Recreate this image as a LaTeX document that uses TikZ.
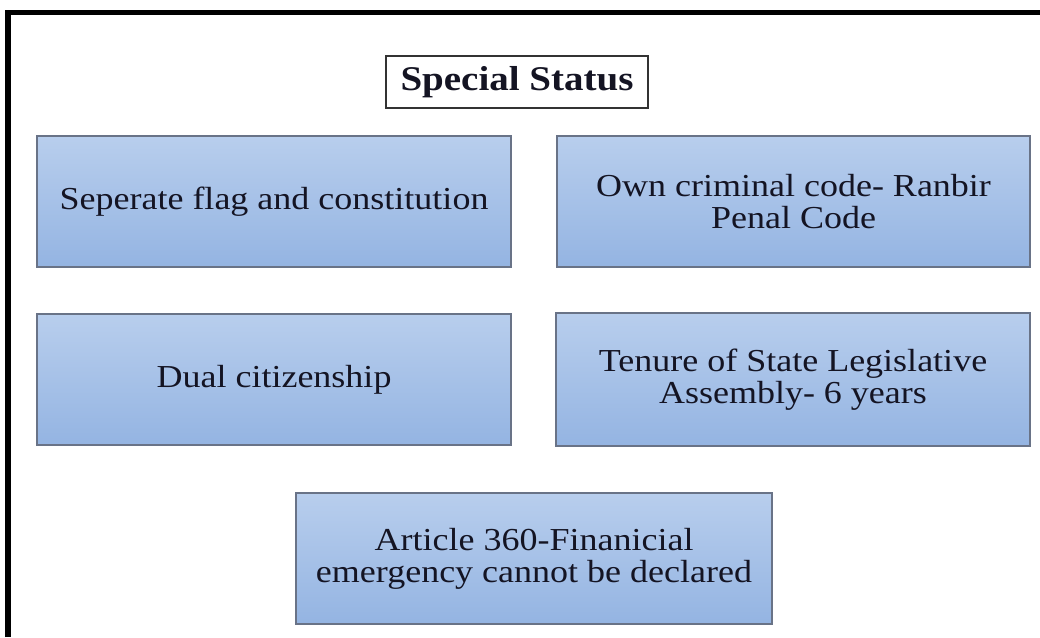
\documentclass[tikz,border=0pt]{standalone}
\usepackage{fontspec}
\setmainfont{Liberation Serif}[FakeStretch=1.125]
\definecolor{boxtop}{RGB}{184,206,237}
\definecolor{boxbot}{RGB}{148,180,226}
\definecolor{boxline}{RGB}{105,115,135}
\definecolor{txt}{RGB}{20,20,35}
\tikzset{
  infobox/.style={rectangle, draw=boxline, line width=1.3pt, top color=boxtop, bottom color=boxbot,
    align=center, inner sep=0pt, font=\fontsize{24}{24}\selectfont, text=txt},
  titlebox/.style={rectangle, draw=black!80, line width=1.3pt, fill=white, inner sep=0pt,
    font=\fontsize{26}{26}\selectfont\bfseries, text=txt}
}
\begin{document}
\begin{tikzpicture}[x=0.75pt,y=-0.75pt]
\useasboundingbox (0,0) rectangle (1040,637);
\draw[line width=3.8pt, line cap=butt] (8,637) -- (8,12.5) -- (1040,12.5);
\node[titlebox, minimum width=262*0.75pt, minimum height=52*0.75pt] (title) at (517,82) {Special Status};
\node[infobox, minimum width=474*0.75pt, minimum height=131*0.75pt] (b1) at (274,201.5) {Seperate flag and constitution};
\node[infobox, minimum width=473*0.75pt, minimum height=131*0.75pt] (b2) at (793.5,201.5) {Own criminal code- Ranbir\\Penal Code};
\node[infobox, minimum width=474*0.75pt, minimum height=131*0.75pt] (b3) at (274,379.5) {Dual citizenship};
\node[infobox, minimum width=474*0.75pt, minimum height=133*0.75pt] (b4) at (793,379.5) {Tenure of State Legislative\\Assembly- 6 years};
\node[infobox, minimum width=476*0.75pt, minimum height=131*0.75pt] (b5) at (534,558.5) {Article 360-Finanicial\\emergency cannot be declared};
\end{tikzpicture}
\end{document}
